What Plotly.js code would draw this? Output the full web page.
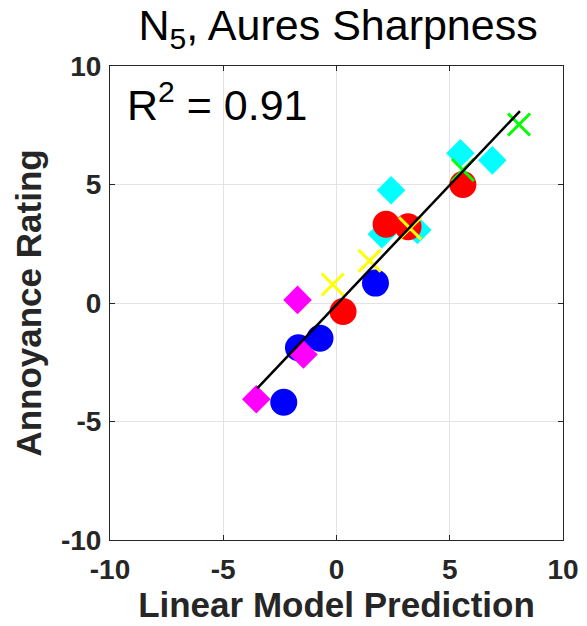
<!DOCTYPE html>
<html>
<head>
<meta charset="utf-8">
<script src="https://cdn.plot.ly/plotly-3.0.1.min.js"></script>
<style>html,body{margin:0;padding:0;background:#fff;}#chart{width:587px;height:626px;}</style>
</head>
<body>
<div id="chart"></div>
<script>
// Data
const blueX = [-2.33, -1.68, -0.73, 1.72];
const blueY = [-4.19, -1.89, -1.49, 0.84];
const cyanX = [2.0, 3.57, 2.41, 5.47, 6.88];
const cyanY = [2.9, 3.08, 4.76, 6.32, 6.02];
const redX = [0.29, 2.19, 3.16, 5.58];
const redY = [-0.36, 3.32, 3.22, 5.0];
const greenX = [5.58, 8.06];
const greenY = [5.61, 7.53];
const yellowX = [-0.17, 1.46, 3.25];
const yellowY = [0.78, 1.78, 3.15];
const magentaX = [-3.54, -1.72, -1.46];
const magentaY = [-4.06, 0.13, -2.17];
const fitX = [-3.5, 8.1];
const fitY = [-3.6, 8.1];
const tickVals = [-10, -5, 0, 5, 10];
const tickText = ["-10", "-5", "0", "5", "10"];
const titleText = "N<sub>5</sub>, Aures Sharpness";
const r2Text = "R<sup>2</sup> = 0.91";
const xTitle = "Linear Model Prediction";
const yTitle = "Annoyance Rating";

const FONT = 'Liberation Sans, Arial, sans-serif';
const circle = (x, y, c) => ({x, y, type: 'scatter', mode: 'markers', hoverinfo: 'skip',
  marker: {symbol: 'circle', size: 27, color: c, line: {width: 0}}});
const diamond = (x, y, c) => ({x, y, type: 'scatter', mode: 'markers', hoverinfo: 'skip',
  marker: {symbol: 'diamond', size: 22, color: c, line: {width: 0}}});
const cross = (x, y, c) => ({x, y, type: 'scatter', mode: 'markers', hoverinfo: 'skip',
  marker: {symbol: 'x-thin', size: 22, color: c, line: {width: 3, color: c}}});

const data = [
  circle(blueX, blueY, '#0000ff'),
  diamond(cyanX, cyanY, '#00ffff'),
  circle(redX, redY, '#ff0000'),
  cross(greenX, greenY, '#00ff00'),
  cross(yellowX, yellowY, '#ffff00'),
  diamond(magentaX, magentaY, '#ff00ff'),
  {x: fitX, y: fitY, type: 'scatter', mode: 'lines', hoverinfo: 'skip',
   line: {color: '#000000', width: 2.5}}
];

const axisBase = {
  range: [-10, 10], tickmode: 'array', tickvals: tickVals, ticktext: tickText,
  showgrid: true, gridcolor: '#e3e3e3', gridwidth: 1, zeroline: false,
  showline: true, linecolor: '#262626', linewidth: 1, mirror: 'ticks',
  ticks: 'inside', ticklen: 5, tickcolor: '#262626', tickwidth: 1,
  tickfont: {family: FONT, size: 28, color: '#262626', weight: 'bold'},
  fixedrange: true
};

const layout = {
  width: 587, height: 626,
  margin: {l: 110, r: 24, t: 66, b: 86},
  paper_bgcolor: '#ffffff', plot_bgcolor: '#ffffff',
  showlegend: false,
  title: {text: titleText, x: 0.576, xanchor: 'center', y: 0.96, yanchor: 'middle',
    font: {family: FONT, size: 43, color: '#000000'}},
  xaxis: Object.assign({}, axisBase, {
    ticklabelstandoff: 4,
    title: {text: xTitle, standoff: 3,
      font: {family: FONT, size: 35, color: '#262626', weight: 'bold'}}
  }),
  yaxis: Object.assign({}, axisBase, {
    ticklabelstandoff: 2,
    title: {text: yTitle, standoff: 8,
      font: {family: FONT, size: 35, color: '#262626', weight: 'bold'}}
  }),
  annotations: [{
    text: r2Text, xref: 'paper', yref: 'paper', x: 0.033, y: 0.923,
    xanchor: 'left', yanchor: 'middle', showarrow: false,
    font: {family: FONT, size: 43, color: '#000000'}
  }]
};

Plotly.newPlot('chart', data, layout, {staticPlot: true, displayModeBar: false});
</script>
</body>
</html>
